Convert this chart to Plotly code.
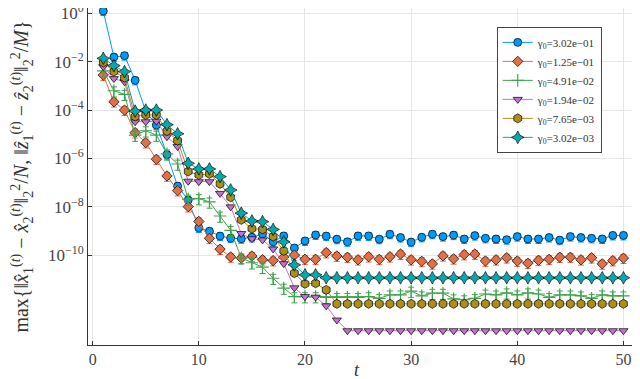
import plotly.graph_objects as go

# iteration index
t = list(range(1, 51))

gamma_labels = ["3.02e−01", "1.25e−01", "4.91e−02", "1.94e−02", "7.65e−03", "3.02e−03"]

# max of the two normalised squared differences, one list per gamma_0
err_g1 = [1.24, 1.55e-2, 1.78e-2, 1.70e-3, 8.9e-5, 2.4e-5, 1.45e-6, 7.2e-8, 1.9e-8, 1.35e-9,
          9.8e-10, 6.2e-10, 5.1e-10, 4.8e-10, 5.5e-10, 7.6e-10, 3.6e-10, 6.3e-10, 2.0e-10, 3.9e-10,
          6.9e-10, 6.2e-10, 4.6e-10, 3.6e-10, 6.3e-10, 6.3e-10, 4.6e-10, 7.4e-10, 5.4e-10, 3.5e-10,
          5.5e-10, 7.4e-10, 5.9e-10, 6.8e-10, 4.7e-10, 6.5e-10, 5.0e-10, 4.7e-10, 4.4e-10, 5.9e-10,
          4.7e-10, 4.7e-10, 5.4e-10, 4.2e-10, 5.9e-10, 5.4e-10, 5.0e-10, 4.7e-10, 6.6e-10, 6.6e-10]
err_g2 = [2.8e-3, 2.2e-4, 1.0e-4, 1.17e-5, 4.5e-6, 9.3e-7, 1.9e-7, 4.7e-8, 1.02e-8, 2.5e-9,
          5.0e-10, 1.78e-10, 8.5e-11, 7.6e-11, 9.3e-11, 6.5e-11, 6.0e-11, 8.3e-11, 1.02e-10, 6.8e-11,
          6.8e-11, 1.29e-10, 9.3e-11, 8.3e-11, 6.5e-11, 8.7e-11, 6.8e-11, 8.7e-11, 1.12e-10, 6.5e-11,
          5.6e-11, 4.4e-11, 9.5e-11, 7.1e-11, 1.07e-10, 1.12e-10, 5.8e-11, 6.5e-11, 7.9e-11, 5.8e-11,
          4.7e-11, 6.2e-11, 6.8e-11, 8.3e-11, 8.3e-11, 6.5e-11, 7.9e-11, 4.4e-11, 6.0e-11, 7.6e-11]
err_g3 = [4.2e-3, 6.3e-4, 4.5e-4, 9.3e-6, 1.4e-5, 9.3e-6, 1.55e-6, 5.9e-7, 2.1e-8, 2.2e-8,
          1.6e-8, 4.2e-9, 1.07e-9, 7.8e-11, 4.9e-11, 3.2e-11, 1.12e-11, 4.4e-12, 1.95e-12, 1.95e-12,
          1.95e-12, 1.82e-12, 1.82e-12, 1.82e-12, 1.82e-12, 1.95e-12, 1.66e-12, 2.3e-12, 2.3e-12, 3.3e-12,
          2.1e-12, 2.7e-12, 2.7e-12, 1.58e-12, 1.45e-12, 1.66e-12, 2.5e-12, 2.3e-12, 2.8e-12, 2.3e-12,
          2.8e-12, 2.5e-12, 1.82e-12, 2.3e-12, 2.3e-12, 2.1e-12, 1.66e-12, 2.3e-12, 2.1e-12, 2.1e-12]
err_g4 = [6.2e-3, 2.0e-3, 1.48e-3, 3.3e-5, 3.3e-5, 3.5e-5, 7.9e-6, 3.1e-6, 1.15e-7, 1.1e-7,
          1.1e-7, 3.6e-8, 1.0e-8, 7.9e-10, 4.8e-10, 4.3e-10, 1.82e-10, 4.5e-11, 4.5e-12, 1.95e-12,
          1.86e-12, 8.1e-13, 2.1e-13, 7.6e-14, 7.6e-14, 7.6e-14, 7.6e-14, 7.6e-14, 7.6e-14, 7.6e-14,
          7.6e-14, 7.6e-14, 7.6e-14, 7.6e-14, 7.6e-14, 7.6e-14, 7.6e-14, 7.6e-14, 7.6e-14, 7.6e-14,
          7.6e-14, 7.6e-14, 7.6e-14, 7.6e-14, 7.6e-14, 7.6e-14, 7.6e-14, 7.6e-14, 7.6e-14, 7.6e-14]
err_g5 = [9.3e-3, 3.9e-3, 2.2e-3, 5.4e-5, 6.3e-5, 6.3e-5, 1.35e-5, 5.5e-6, 2.9e-7, 2.1e-7,
          2.3e-7, 8.9e-8, 2.5e-8, 2.9e-9, 1.26e-9, 1.17e-9, 5.9e-10, 1.51e-10, 1.82e-11, 6.6e-12,
          6.9e-12, 3.7e-12, 9.8e-13, 9.8e-13, 9.8e-13, 9.8e-13, 9.8e-13, 9.8e-13, 9.8e-13, 9.8e-13,
          9.8e-13, 9.8e-13, 9.8e-13, 9.8e-13, 9.8e-13, 9.8e-13, 9.8e-13, 9.8e-13, 9.8e-13, 9.8e-13,
          9.8e-13, 9.8e-13, 9.8e-13, 9.8e-13, 9.8e-13, 9.8e-13, 9.8e-13, 9.8e-13, 9.8e-13, 9.8e-13]
err_g6 = [1.38e-2, 6.9e-3, 3.9e-3, 9.1e-5, 1.0e-4, 1.0e-4, 2.5e-5, 1.05e-5, 6.3e-7, 3.7e-7,
          3.7e-7, 1.78e-7, 5.0e-8, 5.5e-9, 2.6e-9, 2.45e-9, 1.17e-9, 3.6e-10, 4.0e-11, 1.55e-11,
          1.55e-11, 1.17e-11, 1.17e-11, 1.17e-11, 1.17e-11, 1.17e-11, 1.17e-11, 1.17e-11, 1.17e-11, 1.17e-11,
          1.17e-11, 1.17e-11, 1.17e-11, 1.17e-11, 1.17e-11, 1.17e-11, 1.17e-11, 1.17e-11, 1.17e-11, 1.17e-11,
          1.17e-11, 1.17e-11, 1.17e-11, 1.17e-11, 1.17e-11, 1.17e-11, 1.17e-11, 1.17e-11, 1.17e-11, 1.17e-11]

# spread over repeated runs, as percent of the value
spread_pct = [35, 40, 45, 5, 5, 5]

series = [err_g1, err_g2, err_g3, err_g4, err_g5, err_g6]
colors = ["#009AFA", "#E36F47", "#3EA44E", "#C371D2", "#AC8E18", "#00AAAE"]
symbols = ["circle", "diamond", "cross-thin", "triangle-down", "hexagon", "star-diamond"]
sizes = [8, 8, 9, 8, 9, 9]

FONT = "Liberation Serif"

fig = go.Figure()

for vals, lab, col, sym, sz, pct in zip(series, gamma_labels, colors, symbols, sizes, spread_pct):
    if sym == "cross-thin":
        mline = dict(color=col, width=1.2)
    else:
        mline = dict(color="black", width=0.7)
    fig.add_trace(go.Scatter(
        x=t, y=vals,
        mode="lines+markers",
        name="γ<sub>0</sub>=" + lab,
        line=dict(color=col, width=1),
        marker=dict(symbol=sym, size=sz, color=col, line=mline),
        error_y=dict(type="percent", value=pct, color=col, thickness=1, width=3),
        cliponaxis=False,
    ))

ytick_vals = [1, 1e-2, 1e-4, 1e-6, 1e-8, 1e-10]
ytick_text = ["10<sup>0</sup>", "10<sup>−2</sup>", "10<sup>−4</sup>",
              "10<sup>−6</sup>", "10<sup>−8</sup>", "10<sup>−10</sup>"]

ytitle = ("max{‖<i>x̂</i><sub>1</sub><sup>(<i>t</i>)</sup> − <i>x̂</i><sub>2</sub><sup>(<i>t</i>)</sup>"
          "‖<sub>2</sub><sup>2</sup>/<i>N</i>, ‖<i>ẑ</i><sub>1</sub><sup>(<i>t</i>)</sup> − "
          "<i>ẑ</i><sub>2</sub><sup>(<i>t</i>)</sup>‖<sub>2</sub><sup>2</sup>/<i>M</i>}")

# the page body adds an 8px offset, so margins are trimmed by that amount
fig.update_layout(
    width=640, height=379,
    margin=dict(l=80, r=15, t=0, b=42),
    paper_bgcolor="white", plot_bgcolor="white",
    font=dict(family=FONT, size=16, color="#333333"),
    showlegend=True,
    legend=dict(
        x=0.75, y=0.944, xanchor="left", yanchor="top",
        bgcolor="white", bordercolor="#444444", borderwidth=1,
        font=dict(family=FONT, size=11, color="#333333"),
        tracegroupgap=0, itemwidth=30,
    ),
    xaxis=dict(
        range=[-0.44, 50.9],
        tickvals=[0, 10, 20, 30, 40, 50],
        showgrid=True, gridcolor="#e6e6e6", gridwidth=1,
        zeroline=False, automargin=False,
        showline=True, linecolor="#333333", linewidth=1,
        ticks="inside", ticklen=4, tickcolor="#333333",
        tickfont=dict(family=FONT, size=16, color="#444444"),
        ticklabeloverflow="allow",
    ),
    yaxis=dict(
        type="log",
        range=[-13.71, 0.22],
        tickvals=ytick_vals, ticktext=ytick_text,
        showgrid=True, gridcolor="#e6e6e6", gridwidth=1,
        zeroline=False, automargin=False,
        showline=True, linecolor="#333333", linewidth=1,
        ticks="inside", ticklen=4, tickcolor="#333333",
        title=dict(text=ytitle, font=dict(family=FONT, size=20)),
        tickfont=dict(family=FONT, size=17, color="#444444"),
        ticklabeloverflow="allow",
    ),
    annotations=[dict(
        text="<i>t</i>", xref="paper", yref="paper",
        x=0.494, y=-0.074, xanchor="center", yanchor="middle",
        showarrow=False, font=dict(family=FONT, size=18, color="#333333"),
    )],
)

fig.write_html("out.html")
